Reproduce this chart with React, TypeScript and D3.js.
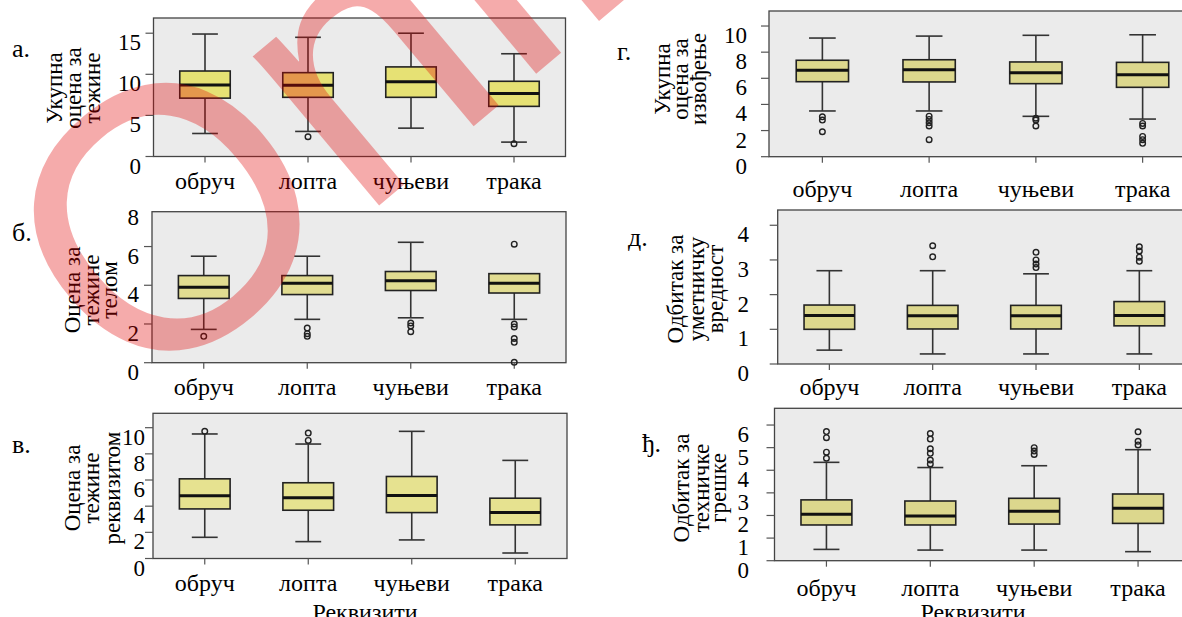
import React from 'react';
import * as d3 from 'd3';

const W = 1182;
const H = 617;

const categories = ['обруч', 'лопта', 'чуњеви', 'трака'];
const xTitle = 'Реквизити';

// а. Укупна оцена за тежине
const aLow = [2.8, 3.05, 3.45, 1.75];
const aQ1 = [7.1, 7.2, 7.2, 6.1];
const aMed = [8.7, 8.66, 9.1, 7.65];
const aQ3 = [10.4, 10.2, 10.9, 9.15];
const aHigh = [14.9, 14.5, 15.0, 12.5];
const aOut = [[], [2.4], [], [1.55]];

// б. Оцена за тежине телом
const bLow = [1.72, 2.24, 2.32, 2.24];
const bQ1 = [3.32, 3.52, 3.73, 3.6];
const bMed = [3.9, 4.1, 4.23, 4.1];
const bQ3 = [4.5, 4.5, 4.71, 4.6];
const bHigh = [5.5, 5.5, 6.22, 4.6];
const bOut = [[1.36], [1.79, 1.5, 1.36], [2.05, 1.9, 1.6], [6.12, 2.0, 1.85, 1.25, 1.05, 0.02]];

// в. Оцена за тежине реквизитом
const vLow = [1.62, 1.29, 1.42, 0.42];
const vQ1 = [3.79, 3.69, 3.51, 2.57];
const vMed = [4.79, 4.64, 4.81, 3.51];
const vQ3 = [6.09, 5.79, 6.27, 4.61];
const vHigh = [9.52, 8.75, 9.72, 7.5];
const vOut = [[9.72], [9.59, 9.03], [], []];

// г. Укупна оцена за извођење
const gLow = [3.5, 3.5, 3.09, 2.88];
const gQ1 = [5.74, 5.72, 5.59, 5.31];
const gMed = [6.61, 6.66, 6.43, 6.27];
const gQ3 = [7.38, 7.42, 7.25, 7.22];
const gHigh = [9.08, 9.23, 9.29, 9.33];
const gOut = [[3.05, 2.8, 1.91], [3.1, 2.85, 2.6, 2.35, 1.3], [2.95, 2.8, 2.35], [2.55, 2.35, 1.55, 1.3, 1.02]];

// д. Одбитак за уметничку вредност
const dLow = [0.4, 0.29, 0.29, 0.29];
const dQ1 = [1.0, 1.01, 1.01, 1.1];
const dMed = [1.4, 1.39, 1.39, 1.4];
const dQ3 = [1.7, 1.69, 1.69, 1.8];
const dHigh = [2.69, 2.69, 2.6, 2.69];
const dOut = [[], [3.41, 3.09], [3.22, 3.0, 2.88, 2.78], [3.38, 3.26, 3.08, 2.96]];

// ђ. Одбитак за техничке грешке
const djLow = [0.5, 0.47, 0.47, 0.4];
const djQ1 = [1.58, 1.58, 1.62, 1.65];
const djMed = [2.05, 1.98, 2.19, 2.32];
const djQ3 = [2.69, 2.64, 2.76, 2.95];
const djHigh = [4.35, 4.12, 4.2, 4.91];
const djOut = [[5.71, 5.44, 4.8, 4.53], [5.62, 5.38, 4.95, 4.75, 4.45, 4.28], [5.0, 4.85, 4.7], [5.7, 5.28, 5.12]];

const serif = '"Liberation Serif", "Times New Roman", serif';

const panels = [
  {
    letter: 'а.', letterX: 12, letterY: 57,
    title: ['Укупна', 'оцена за', 'тежине'], titleX: [62, 81, 100], titleCy: 88,
    left: 153.5, right: 565.5, top: 18, bottom: 156.5, yMax: 16.85,
    ticks: [0, 5, 10, 15], labels: [0, 5, 10, 15], labelRight: 141, catY: 189,
    fill: '#e6e174',
    low: aLow, q1: aQ1, med: aMed, q3: aQ3, high: aHigh, out: aOut,
  },
  {
    letter: 'б.', letterX: 12, letterY: 241,
    title: ['Оцена за', 'тежине', 'телом'], titleX: [80, 99, 117], titleCy: 290,
    left: 152, right: 566, top: 211.7, bottom: 362.7, yMax: 7.8,
    ticks: [0, 2, 4, 6], labels: [0, 2, 4, 6, 8], labelRight: 139, catY: 395,
    fill: '#e1dc91',
    low: bLow, q1: bQ1, med: bMed, q3: bQ3, high: bHigh, out: bOut,
  },
  {
    letter: 'в.', letterX: 12, letterY: 453,
    title: ['Оцена за', 'тежине', 'реквизитом'], titleX: [80, 99, 120], titleCy: 488,
    left: 153, right: 567, top: 413.3, bottom: 558.5, yMax: 11.1,
    ticks: [0, 2, 4, 6, 8, 10], labels: [0, 2, 4, 6, 8, 10], labelRight: 145, catY: 591,
    fill: '#e6e290',
    low: vLow, q1: vQ1, med: vMed, q3: vQ3, high: vHigh, out: vOut,
  },
  {
    letter: 'г.', letterX: 617, letterY: 60,
    title: ['Укупна', 'оцена за', 'извођење'], titleX: [670, 688, 706], titleCy: 79,
    left: 769, right: 1196, top: 11, bottom: 156.7, yMax: 11.15,
    ticks: [0, 2, 4, 6, 8, 10], labels: [0, 2, 4, 6, 8, 10], labelRight: 747, catY: 197,
    fill: '#dcd78d',
    low: gLow, q1: gQ1, med: gMed, q3: gQ3, high: gHigh, out: gOut,
  },
  {
    letter: 'д.', letterX: 628, letterY: 246,
    title: ['Одбитак за', 'уметничку', 'вредност'], titleX: [683, 704, 723], titleCy: 289,
    left: 777.7, right: 1191, top: 210, bottom: 364, yMax: 4.44,
    ticks: [0, 1, 2, 3, 4], labels: [0, 1, 2, 3, 4], labelRight: 749, catY: 395,
    fill: '#dcd78d',
    low: dLow, q1: dQ1, med: dMed, q3: dQ3, high: dHigh, out: dOut,
  },
  {
    letter: 'ђ.', letterX: 642, letterY: 452,
    title: ['Одбитак за', 'техничке', 'грешке'], titleX: [689, 709, 726], titleCy: 488,
    left: 774.5, right: 1190, top: 408.3, bottom: 560.7, yMax: 6.74,
    ticks: [0, 1, 2, 3, 4, 5, 6], labels: [0, 1, 2, 3, 4, 5, 6], labelRight: 749, catY: 596,
    fill: '#dcd78d',
    low: djLow, q1: djQ1, med: djMed, q3: djQ3, high: djHigh, out: djOut,
  },
];

function BoxPanel({ p }: { p: any }) {
  const y = d3.scaleLinear().domain([0, p.yMax]).range([p.bottom, p.top]);
  const x = d3.scaleBand().domain(categories).range([p.left, p.right]);
  const bw = x.bandwidth();
  const boxW = bw * 0.49;
  const capW = bw * 0.25;
  return (
    <g>
      <text x={p.letterX} y={p.letterY} fontFamily={serif} fontSize={26}>{p.letter}</text>
      {p.title.map((t: string, i: number) => (
        <text key={i} transform={`translate(${p.titleX[i]},${p.titleCy}) rotate(-90)`}
          textAnchor="middle" fontFamily={serif} fontSize={23}>{t}</text>
      ))}
      <rect x={p.left} y={p.top} width={p.right - p.left} height={p.bottom - p.top}
        fill="#ebebeb" stroke="#444" strokeWidth={1.3} />
      {p.ticks.map((t: number) => (
        <line key={'t' + t} x1={p.left - 8} x2={p.left} y1={y(t)} y2={y(t)} stroke="#555" strokeWidth={1.2} />
      ))}
      {p.labels.map((t: number) => (
        <text key={'l' + t} x={p.labelRight} y={y(t) + 17} textAnchor="end"
          fontFamily={serif} fontSize={23}>{t}</text>
      ))}
      {categories.map((c, i) => {
        const cx = (x(c) as number) + bw / 2;
        return (
          <g key={c}>
            <line x1={cx} x2={cx} y1={p.bottom} y2={p.bottom + 6} stroke="#555" strokeWidth={1.2} />
            <text x={cx} y={p.catY} textAnchor="middle" fontFamily={serif} fontSize={24}>{c}</text>
            <line x1={cx} x2={cx} y1={y(p.high[i])} y2={y(p.q3[i])} stroke="#333" strokeWidth={1.6} />
            <line x1={cx} x2={cx} y1={y(p.q1[i])} y2={y(p.low[i])} stroke="#333" strokeWidth={1.6} />
            {p.high[i] > p.q3[i] && (
              <line x1={cx - capW / 2} x2={cx + capW / 2} y1={y(p.high[i])} y2={y(p.high[i])} stroke="#333" strokeWidth={1.6} />
            )}
            <line x1={cx - capW / 2} x2={cx + capW / 2} y1={y(p.low[i])} y2={y(p.low[i])} stroke="#333" strokeWidth={1.6} />
            <rect x={cx - boxW / 2} y={y(p.q3[i])} width={boxW} height={y(p.q1[i]) - y(p.q3[i])}
              fill={p.fill} stroke="#222" strokeWidth={1.6} />
            <line x1={cx - boxW / 2} x2={cx + boxW / 2} y1={y(p.med[i])} y2={y(p.med[i])} stroke="#111" strokeWidth={3} />
            {p.out[i].map((v: number, k: number) => (
              <circle key={k} cx={cx} cy={y(v)} r={2.8} fill="none" stroke="#222" strokeWidth={1.4} />
            ))}
          </g>
        );
      })}
    </g>
  );
}

export default function App() {
  return (
    <div style={{ position: 'absolute', left: 0, top: 0 }}>
      <svg width={W} height={H} style={{ display: 'block', background: '#fff' }}>
        {panels.map((p, i) => <BoxPanel key={i} p={p} />)}
        <text x={365} y={620} textAnchor="middle" fontFamily={serif} fontSize={24}>{xTitle}</text>
        <text x={973} y={620} textAnchor="middle" fontFamily={serif} fontSize={24}>{xTitle}</text>
        <text transform="translate(139,407) rotate(-40)" fontFamily='"Liberation Sans", Arial, sans-serif'
          fontSize={370} fill="rgba(225,0,0,0.33)" style={{ pointerEvents: 'none' }}>Online First</text>
      </svg>
    </div>
  );
}
